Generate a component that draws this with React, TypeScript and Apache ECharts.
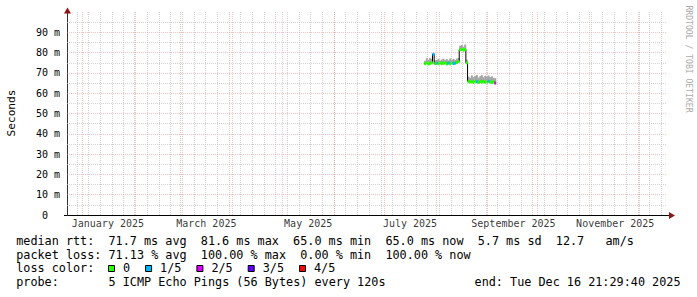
import { useEffect, useRef } from "react";
import * as echarts from "echarts";

const DAY = 86400000;
const ts = (d: string) => new Date(d + (d.length <= 10 ? "T00:00:00Z" : "Z")).getTime();

// ---- axis range & ticks ----
const X_MIN = ts("2024-12-23");
const X_MAX = ts("2025-12-17T12:00:00");
const Y_MIN = 0;
const Y_MAX = 100;
const Y_STEP = 10;

const monthStarts = [
  "2025-01-01", "2025-02-01", "2025-03-01", "2025-04-01", "2025-05-01", "2025-06-01",
  "2025-07-01", "2025-08-01", "2025-09-01", "2025-10-01", "2025-11-01", "2025-12-01",
];
const firstWeekLine = "2024-12-29";
const xTickLabels = ["January 2025", "March 2025", "May 2025", "July 2025", "September 2025", "November 2025"];
const xTickDates = [
  "2025-01-16T12:00:00", "2025-03-16T12:00:00", "2025-05-16T12:00:00",
  "2025-07-16T12:00:00", "2025-09-16T12:00:00", "2025-11-16T12:00:00",
];

// ---- data (daily samples) ----
const sampleDates = [
  "2025-07-25", "2025-07-26", "2025-07-27", "2025-07-28", "2025-07-29", "2025-07-30", "2025-07-31",
  "2025-08-01", "2025-08-02", "2025-08-03", "2025-08-04", "2025-08-05", "2025-08-06", "2025-08-07",
  "2025-08-08", "2025-08-09", "2025-08-10", "2025-08-11", "2025-08-12", "2025-08-13", "2025-08-14",
  "2025-08-15", "2025-08-16", "2025-08-17", "2025-08-18", "2025-08-19", "2025-08-20", "2025-08-21",
  "2025-08-22", "2025-08-23", "2025-08-24", "2025-08-25", "2025-08-26", "2025-08-27", "2025-08-28",
  "2025-08-29", "2025-08-30", "2025-08-31", "2025-09-01", "2025-09-02", "2025-09-03", "2025-09-04",
  "2025-09-05",
];
const medianMs = [
  74.6, 74.9, 74.4, 74.7, 75.0, 79.2, 74.6,
  74.8, 74.5, 74.9, 74.6, 74.7, 75.0, 74.4,
  74.8, 74.5, 74.9, 74.6, 74.8, 75.1, 75.6,
  81.4, 81.6, 81.2, 81.5, 75.0, 65.8, 65.5,
  65.7, 65.4, 65.9, 65.6, 65.3, 65.7, 65.5,
  65.8, 65.4, 65.6, 65.9, 65.5, 65.2, 65.6,
  65.0,
];
const smokeTopMs = [
  76.0, 77.2, 76.5, 77.4, 76.8, 79.6, 76.2,
  76.4, 76.9, 76.1, 76.6, 77.0, 76.3, 76.8,
  76.2, 77.1, 76.5, 76.9, 76.4, 77.0, 77.3,
  83.4, 83.8, 82.9, 84.0, 76.5, 68.2, 67.6,
  68.8, 67.9, 68.5, 69.0, 67.7, 68.4, 68.9,
  67.8, 68.6, 68.1, 68.7, 67.9, 68.3, 67.6,
  67.4,
];
const lossLevel = [
  0, 0, 0, 0, 0, 1, 0,
  1, 0, 0, 0, 0, 0, 0,
  1, 0, 0, 1, 1, 0, 0,
  0, 0, 0, 0, 0, 0, 0,
  0, 0, 0, 1, 0, 0, 0,
  0, 0, 0, 1, 0, 0, 0,
  2,
];
const lossColors = ["#26ff00", "#00b8ff", "#dd00ff", "#5e00ff", "#ff0000"];
const lossLabels = ["0", "1/5", "2/5", "3/5", "4/5"];

// ---- legend text ----
const legendLine1 = "median rtt:  71.7 ms avg  81.6 ms max  65.0 ms min  65.0 ms now  5.7 ms sd  12.7   am/s";
const legendLine2 = "packet loss: 71.13 % avg  100.00 % max  0.00 % min  100.00 % now";
const legendLine3 = "loss color:";
const legendLine4 = "probe:       5 ICMP Echo Pings (56 Bytes) every 120s";
const legendEnd = "end: Tue Dec 16 21:29:40 2025";
const yTitle = "Seconds";
const watermark = "RRDTOOL / TOBI OETIKER";

const MONO = '"DejaVu Sans Mono", monospace';
const LEG_FS = 11.8;
const CW = 7.1;
const LEG_X = 16.2;
const SMOKE = "#a4a4a4";
const GRID_MINOR = "rgba(186,186,186,0.65)";
const GRID_MAJOR = "rgba(240,120,120,0.45)";
const ARROW = "#8f1515";

function tokens(line: string, y: number, startCol = 0) {
  const out: any[] = [];
  const re = /\S+(?: \S+)*/g;
  let m: RegExpExecArray | null;
  while ((m = re.exec(line))) {
    out.push({
      type: "text",
      silent: true,
      style: {
        text: m[0],
        x: LEG_X + (startCol + m.index) * CW,
        y,
        fill: "#000",
        font: `${LEG_FS}px ${MONO}`,
        align: "left",
        verticalAlign: "middle",
        textAlign: "left",
        textVerticalAlign: "middle",
      },
    });
  }
  return out;
}

export default function App() {
  const ref = useRef<HTMLDivElement>(null);
  useEffect(() => {
    document.body.style.margin = "0";
    if (!ref.current) return;
    const chart = echarts.init(ref.current, undefined, { renderer: "svg" });

    const samples = sampleDates.map((d, i) => [ts(d), medianMs[i], smokeTopMs[i], lossLevel[i]]);
    const medianLine: any[] = samples.map((s) => [s[0], s[1]]);
    medianLine.push([samples[samples.length - 1][0] + DAY, medianMs[medianMs.length - 1]]);

    const weekLines: number[] = [];
    for (let t = ts(firstWeekLine); t < X_MAX; t += 7 * DAY) weekLines.push(t);

    const gridLines = [
      ...weekLines.map((t) => ({
        xAxis: t,
        lineStyle: { color: GRID_MINOR, type: [1, 1], width: 1 },
      })),
      ...monthStarts.map((d) => ({
        xAxis: ts(d),
        lineStyle: { color: GRID_MAJOR, type: [1, 1], width: 1 },
      })),
    ];

    // legend line 3 boxes
    const boxes: any[] = [];
    let bx = 108.5;
    lossLabels.forEach((lab, i) => {
      boxes.push({
        type: "rect",
        silent: true,
        shape: { x: bx, y: 265.5, width: 6, height: 6 },
        style: { fill: lossColors[i], stroke: "#000", lineWidth: 1 },
      });
      boxes.push({
        type: "text",
        silent: true,
        style: {
          text: lab,
          x: bx + 14.5,
          y: 268,
          fill: "#000",
          font: `${LEG_FS}px ${MONO}`,
          align: "left",
          verticalAlign: "middle",
          textAlign: "left",
          textVerticalAlign: "middle",
        },
      });
      bx = bx + 15 + lab.length * CW + 15;
    });

    const option: any = {
      animation: false,
      backgroundColor: "#ffffff",
      textStyle: { fontFamily: MONO },
      grid: { left: 67, right: 30, top: 12, bottom: 82, containLabel: false },
      xAxis: {
        type: "value",
        min: X_MIN,
        max: X_MAX,
        axisLine: { show: false },
        axisTick: { show: false },
        axisLabel: { show: false },
        splitLine: { show: false },
      },
      yAxis: {
        type: "value",
        min: Y_MIN,
        max: Y_MAX,
        interval: Y_STEP,
        axisLine: { show: false },
        axisTick: { show: false },
        axisLabel: {
          margin: 7,
          fontSize: 10,
          fontFamily: MONO,
          color: "#000",
          showMaxLabel: false,
          formatter: (v: number) => (v === 0 ? "{z|0}" : `${v} m`),
          rich: { z: { fontSize: 10, fontFamily: MONO, color: "#000", padding: [0, 12, 0, 0] } },
        },
        splitLine: {
          show: true,
          showMaxLine: false,
          showMinLine: false,
          lineStyle: { color: GRID_MAJOR, type: [1, 1], width: 1 },
        },
        minorTick: { show: false, splitNumber: 2 },
        minorSplitLine: { show: true, lineStyle: { color: GRID_MINOR, type: [1, 1], width: 1 } },
      },
      series: [
        {
          type: "line",
          data: [],
          z: 1,
          silent: true,
          markLine: {
            silent: true,
            symbol: ["none", "none"],
            label: { show: false },
            animation: false,
            data: gridLines,
          },
        },
        {
          type: "custom",
          z: 2,
          silent: true,
          data: samples,
          encode: { x: 0, y: 1 },
          renderItem: (_p: any, api: any) => {
            const t = api.value(0);
            const p0 = api.coord([t, api.value(1)]);
            const p1 = api.coord([t + DAY, api.value(2)]);
            return {
              type: "rect",
              shape: { x: p0[0], y: p1[1], width: p1[0] - p0[0] + 0.3, height: p0[1] - p1[1] },
              style: { fill: SMOKE },
            };
          },
        },
        {
          type: "line",
          z: 3,
          silent: true,
          data: medianLine,
          step: "end",
          symbol: "none",
          lineStyle: { color: "#000", width: 1 },
        },
        {
          type: "custom",
          z: 4,
          silent: true,
          data: samples,
          encode: { x: 0, y: 1 },
          renderItem: (_p: any, api: any) => {
            const t = api.value(0);
            const p0 = api.coord([t, api.value(1)]);
            const x1 = api.coord([t + DAY, api.value(1)])[0];
            return {
              type: "rect",
              shape: { x: p0[0], y: p0[1] - 1.5, width: x1 - p0[0] + 0.3, height: 3 },
              style: { fill: lossColors[api.value(3)] },
            };
          },
        },
        {
          type: "scatter",
          z: 5,
          silent: true,
          clip: false,
          symbolSize: 0,
          data: xTickDates.map((d) => [ts(d), 0]),
          label: {
            show: true,
            position: "bottom",
            distance: 3,
            fontFamily: MONO,
            fontSize: 10,
            color: "#000",
            formatter: (p: any) => xTickLabels[p.dataIndex],
          },
        },
      ],
      graphic: [
        // axes
        { type: "line", silent: true, shape: { x1: 67.5, y1: 215.5, x2: 670, y2: 215.5 }, style: { stroke: "#000", lineWidth: 1 } },
        { type: "line", silent: true, shape: { x1: 67.5, y1: 215.5, x2: 67.5, y2: 11 }, style: { stroke: "#333", lineWidth: 1 } },
        { type: "line", silent: true, shape: { x1: 64, y1: 215.5, x2: 67.5, y2: 215.5 }, style: { stroke: "#000", lineWidth: 1 } },
        { type: "polygon", silent: true, shape: { points: [[64, 13.5], [67.5, 7.5], [71, 13.5]] }, style: { fill: ARROW } },
        { type: "polygon", silent: true, shape: { points: [[669, 212], [675, 215.5], [669, 219]] }, style: { fill: ARROW } },
        // y title
        {
          type: "text",
          silent: true,
          x: 11,
          y: 113,
          rotation: Math.PI / 2,
          style: {
            text: yTitle, x: 0, y: 0, fill: "#000", font: `11.1px ${MONO}`,
            align: "center", verticalAlign: "middle", textAlign: "center", textVerticalAlign: "middle",
          },
        },
        // watermark
        {
          type: "text",
          silent: true,
          x: 688.5,
          y: 59,
          rotation: -Math.PI / 2,
          style: {
            text: watermark, x: 0, y: 0, fill: "#aaaaaa", font: `8.1px ${MONO}`,
            align: "center", verticalAlign: "middle", textAlign: "center", textVerticalAlign: "middle",
          },
        },
        ...tokens(legendLine1, 241),
        ...tokens(legendLine2, 254.5),
        ...tokens(legendLine3, 268),
        ...boxes,
        ...tokens(legendLine4, 282),
        {
          type: "text",
          silent: true,
          style: {
            text: legendEnd, x: 680.5, y: 282, fill: "#000", font: `${LEG_FS}px ${MONO}`,
            align: "right", verticalAlign: "middle", textAlign: "right", textVerticalAlign: "middle",
          },
        },
      ],
    };

    chart.setOption(option);
    return () => chart.dispose();
  }, []);

  return <div ref={ref} style={{ width: 697, height: 297 }} />;
}
